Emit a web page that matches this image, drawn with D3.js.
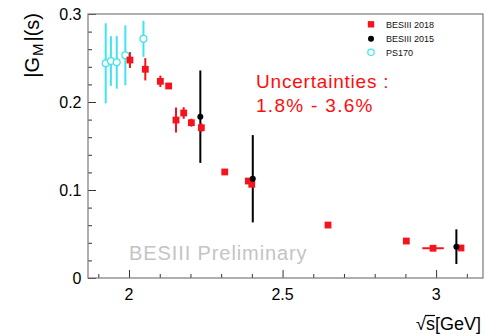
<!DOCTYPE html>
<html>
<head>
<meta charset="utf-8">
<script src="https://cdn.jsdelivr.net/npm/d3@7"></script>
<style>
  html, body { margin: 0; padding: 0; background: #fff; }
  svg { display: block; font-family: "Liberation Sans", Arial, sans-serif; }
</style>
</head>
<body>
<svg id="chart" width="485" height="334"></svg>
<script>
// PS170 measurements (open cyan circles)
const ps170E   = [1.924, 1.941, 1.960, 1.988, 2.047];
const ps170G   = [0.2440, 0.2466, 0.2451, 0.2531, 0.2718];
const ps170Err = [0.0455, 0.0282, 0.0300, 0.0340, 0.0205];

// BESIII 2018 (red squares)
const bes18E    = [2.003, 2.053, 2.102, 2.129, 2.153, 2.178, 2.203, 2.2355, 2.3117, 2.3886, 2.3997, 2.648, 2.903, 2.990, 3.081];
const bes18G    = [0.2477, 0.2372, 0.2235, 0.2182, 0.1795, 0.1875, 0.1765, 0.1708, 0.1205, 0.1102, 0.1065, 0.0602, 0.0420, 0.0338, 0.0341];
const bes18Err  = [0.0090, 0.0127, 0.0065, 0.0030, 0.0142, 0.0066, 0.0045, 0.0050, 0.0020, 0.0020, 0.0020, 0.0015, 0.0010, 0.0010, 0.0010];
const bes18EErr = [0, 0, 0, 0, 0, 0, 0, 0, 0, 0, 0, 0, 0, 0.035, 0];

// BESIII 2015 (black dots)
const bes15E   = [2.2322, 2.403, 3.066];
const bes15G   = [0.1833, 0.1128, 0.0356];
const bes15Err = [0.0525, 0.0496, 0.0197];

// Axis ticks and labels
const xMajor = [2, 2.5, 3];
const xMinor = [1.9, 2.1, 2.2, 2.3, 2.4, 2.6, 2.7, 2.8, 2.9, 3.1];
const yMajor = [0, 0.1, 0.2, 0.3];
const yMinor = [0.02, 0.04, 0.06, 0.08, 0.12, 0.14, 0.16, 0.18, 0.22, 0.24, 0.26, 0.28];
const legendLabels = ["BESIII 2018", "BESIII 2015", "PS170"];

const RED = "#f5141e", CYAN = "#3fe4ef", BLACK = "#000";

const svg = d3.select("#chart");
const frame = { left: 88, right: 483, top: 14, bottom: 278 };

const x = d3.scaleLinear().domain([1.8664, 3.1527]).range([frame.left, frame.right]);
const y = d3.scaleLinear().domain([0, 0.3]).range([frame.bottom, frame.top]);

svg.append("rect").attr("width", 485).attr("height", 334).attr("fill", "#fff");

// Watermark
svg.append("text")
  .attr("x", x(2.0)).attr("y", y(0.0200))
  .attr("font-family", "'Liberation Sans', sans-serif")
  .attr("font-size", 20)
  .attr("letter-spacing", 0.9)
  .attr("fill", "#c4c4c4")
  .text("BESIII Preliminary");

// Axes (ticks drawn inward, ROOT style)
const xAxisMajor = d3.axisTop(x).tickValues(xMajor).tickSize(8).tickFormat("");
const xAxisMinor = d3.axisTop(x).tickValues(xMinor).tickSize(4).tickFormat("");
const yAxisMajor = d3.axisRight(y).tickValues(yMajor).tickSize(8).tickFormat("");
const yAxisMinor = d3.axisRight(y).tickValues(yMinor).tickSize(4).tickFormat("");

function styleAxis(g) {
  g.select(".domain").remove();
  g.selectAll(".tick line").attr("stroke", "#333").attr("stroke-width", 1);
}
svg.append("g").attr("transform", `translate(0,${frame.bottom})`).call(xAxisMajor).call(styleAxis);
svg.append("g").attr("transform", `translate(0,${frame.bottom})`).call(xAxisMinor).call(styleAxis);
svg.append("g").attr("transform", `translate(${frame.left},0)`).call(yAxisMajor).call(styleAxis);
svg.append("g").attr("transform", `translate(${frame.left},0)`).call(yAxisMinor).call(styleAxis);

// Frame
svg.append("rect")
  .attr("x", frame.left).attr("y", frame.top)
  .attr("width", frame.right - frame.left).attr("height", frame.bottom - frame.top)
  .attr("fill", "none").attr("stroke", "#7a7a7a").attr("stroke-width", 1.2);

// Tick labels
svg.append("g").selectAll("text").data(xMajor).join("text")
  .attr("x", d => x(d)).attr("y", 299.5)
  .attr("text-anchor", "middle").attr("font-size", 16).attr("fill", "#000")
  .text(d => d3.format("~g")(d));
svg.append("g").selectAll("text").data(yMajor).join("text")
  .attr("x", 81.5).attr("y", d => y(d) + 5.7)
  .attr("text-anchor", "end").attr("font-size", 16).attr("fill", "#000")
  .text(d => d3.format("~g")(d));

// Axis titles
const yTitle = svg.append("text")
  .attr("transform", "translate(39,13) rotate(-90)")
  .attr("text-anchor", "end").attr("font-size", 20).attr("fill", "#000");
yTitle.append("tspan").text("|G");
yTitle.append("tspan").attr("font-size", 15).attr("dy", 4).attr("dx", 1).text("M");
yTitle.append("tspan").attr("dy", -4).attr("dx", 2).text("|(s)");

const xTitle = svg.append("text")
  .attr("x", 481).attr("y", 329.5)
  .attr("text-anchor", "end").attr("font-size", 18).attr("fill", "#000");
xTitle.append("tspan").attr("id", "radical").text("\u221A");
xTitle.append("tspan").attr("id", "radicand").text("s");
xTitle.append("tspan").text("[GeV]");
{
  const bb = document.getElementById("radicand").getBBox();
  const rb = document.getElementById("radical").getBBox();
  svg.append("line")
    .attr("x1", rb.x + rb.width - 1).attr("x2", bb.x + bb.width)
    .attr("y1", bb.y + 2).attr("y2", bb.y + 2)
    .attr("stroke", "#000").attr("stroke-width", 1.2);
}

// Uncertainty annotation
const note = svg.append("g")
  .attr("font-family", "'Liberation Sans', sans-serif")
  .attr("font-size", 19).attr("fill", "#ff0d0d");
note.append("text").attr("x", 256).attr("y", 87.5).attr("letter-spacing", 0.8).text("Uncertainties :");
note.append("text").attr("x", 256).attr("y", 112).attr("letter-spacing", 1.3).text("1.8% - 3.6%");

// Data layers
const ps = ps170E.map((e, i) => ({ e, g: ps170G[i], err: ps170Err[i] }));
const b18 = bes18E.map((e, i) => ({ e, g: bes18G[i], err: bes18Err[i], ex: bes18EErr[i] }));
const b15 = bes15E.map((e, i) => ({ e, g: bes15G[i], err: bes15Err[i] }));

// PS170
const gPs = svg.append("g");
gPs.selectAll("line").data(ps).join("line")
  .attr("x1", d => x(d.e)).attr("x2", d => x(d.e))
  .attr("y1", d => y(d.g + d.err)).attr("y2", d => y(d.g - d.err))
  .attr("stroke", CYAN).attr("stroke-width", 2);
gPs.selectAll("circle").data(ps).join("circle")
  .attr("cx", d => x(d.e)).attr("cy", d => y(d.g)).attr("r", 3.4)
  .attr("fill", "#fff").attr("stroke", CYAN).attr("stroke-width", 1.3);

// BESIII 2015 error bars (below the 2018 points)
svg.append("g").selectAll("line").data(b15).join("line")
  .attr("x1", d => x(d.e)).attr("x2", d => x(d.e))
  .attr("y1", d => y(d.g + d.err)).attr("y2", d => y(d.g - d.err))
  .attr("stroke", BLACK).attr("stroke-width", 2);

// BESIII 2018
const g18 = svg.append("g");
g18.selectAll("line.v").data(b18).join("line").attr("class", "v")
  .attr("x1", d => x(d.e)).attr("x2", d => x(d.e))
  .attr("y1", d => y(d.g + d.err)).attr("y2", d => y(d.g - d.err))
  .attr("stroke", RED).attr("stroke-width", 2);
g18.selectAll("line.h").data(b18.filter(d => d.ex > 0)).join("line").attr("class", "h")
  .attr("x1", d => x(d.e - d.ex)).attr("x2", d => x(d.e + d.ex))
  .attr("y1", d => y(d.g)).attr("y2", d => y(d.g))
  .attr("stroke", RED).attr("stroke-width", 2);
g18.selectAll("rect").data(b18).join("rect")
  .attr("x", d => x(d.e) - 3.4).attr("y", d => y(d.g) - 3.4)
  .attr("width", 6.8).attr("height", 6.8).attr("fill", RED);

// BESIII 2015 markers
svg.append("g").selectAll("circle").data(b15).join("circle")
  .attr("cx", d => x(d.e)).attr("cy", d => y(d.g)).attr("r", 3)
  .attr("fill", BLACK);

// Legend
const leg = svg.append("g").attr("font-size", 9).attr("fill", "#111");
const legY = [24.3, 38.7, 52.3];
leg.selectAll("text").data(legendLabels).join("text")
  .attr("x", 386).attr("y", (d, i) => legY[i] + 3.3).text(d => d);
leg.append("rect").attr("x", 371 - 3.2).attr("y", legY[0] - 3.2).attr("width", 6.4).attr("height", 6.4).attr("fill", RED);
leg.append("circle").attr("cx", 371).attr("cy", legY[1]).attr("r", 3).attr("fill", BLACK);
leg.append("circle").attr("cx", 371).attr("cy", legY[2]).attr("r", 3.2)
  .attr("fill", "#fff").attr("stroke", CYAN).attr("stroke-width", 1.2);
</script>
</body>
</html>
